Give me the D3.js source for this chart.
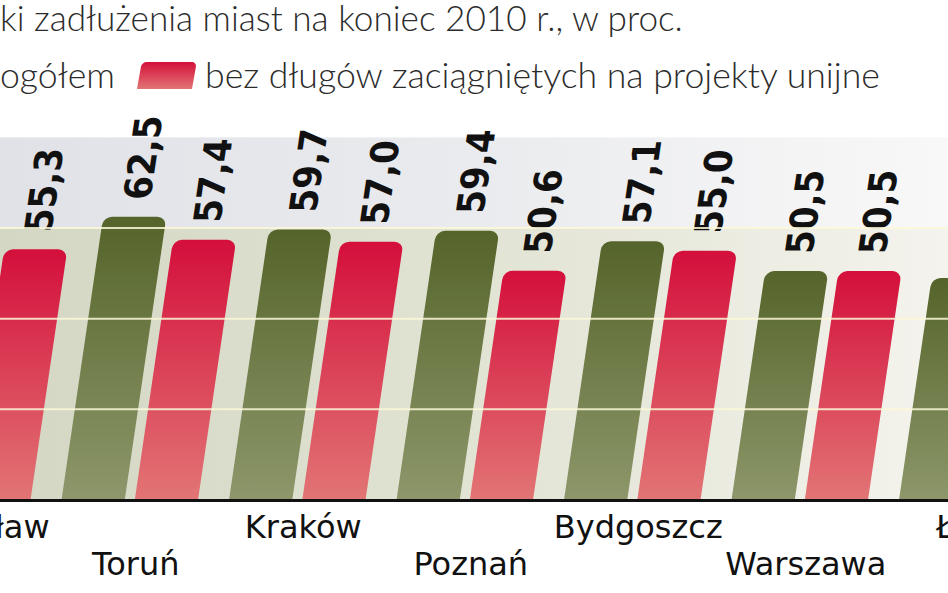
<!DOCTYPE html>
<html>
<head>
<meta charset="utf-8">
<script src="https://cdn.jsdelivr.net/npm/d3@7"></script>
<style>
  html, body { margin: 0; padding: 0; background: #fff; overflow: hidden; }
  svg { display: block; }
</style>
</head>
<body>
<svg id="chart" width="948" height="593"></svg>
<script>
// ---------------- data ----------------
const cities = ["Wrocław", "Toruń", "Kraków", "Poznań", "Bydgoszcz", "Warszawa", "Łódź"];
const debtTotal = [65.7, 62.5, 59.7, 59.4, 57.1, 50.5, 49.0];      // ogółem
const debtExclEU = [55.3, 57.4, 57.0, 50.6, 55.0, 50.5, 45.2];     // bez długów na projekty unijne
const seriesKeys = ["total", "exclEU"];
const seriesNames = ["ogółem", "bez długów zaciągniętych na projekty unijne"];
const gridTicks = [20, 40, 60];
const titleHidden = "Wskaźni";
const titleVisible = "ki zadłużenia miast na koniec 2010 r., w proc.";

// ---------------- setup ----------------
const W = 948, H = 593;
const svg = d3.select("#chart");
const defs = svg.append("defs");

const plBase = 500, plTop = 137.4;
const y = d3.scaleLinear().domain([0, 80]).range([plBase, plTop]);

const step = 167.5, gapOuter = 31;
const x = d3.scaleBand().domain(cities)
  .range([-106, -106 + cities.length * step - gapOuter])
  .paddingInner(gapOuter / step).paddingOuter(0);
const xs = d3.scaleBand().domain(seriesKeys)
  .range([0, x.bandwidth()]).paddingInner(10 / 73);

const fmt = d3.formatLocale({decimal: ",", thousands: " ", grouping: [3], currency: ["", " zł"]}).format(".1f");

const colors = {
  total: ["#55642a", "#8d976b"],
  exclEU: ["#d40f3b", "#e27575"]
};

function vGrad(id, c0, c1) {
  const g = defs.append("linearGradient").attr("id", id)
    .attr("x1", 0).attr("y1", 0).attr("x2", 0).attr("y2", 1);
  g.append("stop").attr("offset", "0%").attr("stop-color", c0);
  g.append("stop").attr("offset", "100%").attr("stop-color", c1);
}
vGrad("g-total", colors.total[0], colors.total[1]);
vGrad("g-exclEU", colors.exclEU[0], colors.exclEU[1]);

function hGrad(id, stops) {
  const g = defs.append("linearGradient").attr("id", id)
    .attr("gradientUnits", "userSpaceOnUse")
    .attr("x1", 0).attr("y1", 0).attr("x2", W).attr("y2", 0);
  stops.forEach(s => g.append("stop").attr("offset", s[0]).attr("stop-color", s[1]));
}
hGrad("bg-grey", [["0%", "#e1e2e8"], ["50%", "#eaebee"], ["100%", "#f8f8f8"]]);
hGrad("bg-beige", [["0%", "#d3d7c3"], ["50%", "#e1e3d3"], ["100%", "#f4f3ed"]]);

// ---------------- background bands ----------------
svg.append("rect").attr("x", 0).attr("width", W)
  .attr("y", y(80)).attr("height", y(60) - y(80)).attr("fill", "url(#bg-grey)");
svg.append("rect").attr("x", 0).attr("width", W)
  .attr("y", y(60)).attr("height", y(0) - y(60)).attr("fill", "url(#bg-beige)");

// ---------------- sheared plot group ----------------
const shear = 0.147;
const skewDeg = -Math.atan(shear) * 180 / Math.PI;
const plot = svg.append("g")
  .attr("transform", `translate(0,${plBase}) skewX(${skewDeg}) translate(0,${-plBase})`);

const rows = cities.map((c, i) => ({
  city: c, i,
  values: [{key: "total", v: debtTotal[i]}, {key: "exclEU", v: debtExclEU[i]}]
}));

function barPath(x0, yt, w, yb, r) {
  const p = d3.path();
  p.moveTo(x0, yb);
  p.lineTo(x0, yt + r);
  p.arcTo(x0, yt, x0 + r, yt, r);
  p.lineTo(x0 + w - r, yt);
  p.arcTo(x0 + w, yt, x0 + w, yt + r, r);
  p.lineTo(x0 + w, yb);
  p.closePath();
  return p.toString();
}

const groups = plot.selectAll("g.city").data(rows).join("g")
  .attr("class", "city")
  .attr("transform", d => `translate(${x(d.city)},0)`);

groups.selectAll("path.bar").data(d => d.values).join("path")
  .attr("class", "bar")
  .attr("d", d => barPath(xs(d.key), y(d.v), xs.bandwidth(), y(0), 9))
  .attr("fill", d => `url(#g-${d.key})`);

groups.selectAll("text.val").data(d => d.values).join("text")
  .attr("class", "val")
  .attr("transform", d => `translate(${xs(d.key) + xs.bandwidth() / 2 + 13},${y(d.v) - 17}) rotate(-90)`)
  .attr("text-anchor", "start")
  .style("font-family", "'DejaVu Sans Condensed', 'DejaVu Sans', sans-serif")
  .style("font-stretch", "condensed")
  .style("font-weight", "bold")
  .style("font-size", "38px")
  .attr("fill", "#111")
  .text(d => fmt(d.v));

// gridlines over bars
svg.append("g").selectAll("line").data(gridTicks).join("line")
  .attr("x1", 0).attr("x2", W)
  .attr("y1", d => y(d)).attr("y2", d => y(d))
  .attr("stroke", "#fbf8d8").attr("stroke-opacity", 0.85).attr("stroke-width", 2);

// baseline
svg.append("line").attr("x1", 0).attr("x2", W)
  .attr("y1", y(0) + 0.5).attr("y2", y(0) + 0.5)
  .attr("stroke", "#111").attr("stroke-width", 3);

// category labels (alternating rows)
svg.append("g").selectAll("text").data(cities).join("text")
  .attr("x", (d, i) => x(d) + x.bandwidth() / 2 + (i === 0 ? 20 : 6))
  .attr("y", (d, i) => i % 2 === 0 ? 538 : 575)
  .attr("text-anchor", "middle")
  .style("font-family", "'DejaVu Sans', sans-serif")
  .style("font-size", "32px")
  .attr("fill", "#111")
  .text(d => d);

// text fit helper (scale font so a text spans a target width)
function fit(sel, target, node) {
  const n = node || sel.node();
  const fs = parseFloat(sel.style("font-size"));
  const len = n.getComputedTextLength();
  sel.style("font-size", (fs * target / len) + "px");
}

const lightFont = "Lato, 'DejaVu Sans', sans-serif";

// ---------------- title ----------------
const title = svg.append("text")
  .attr("y", 31)
  .style("font-family", lightFont)
  .style("font-weight", "300")
  .style("font-size", "30px")
  .attr("fill", "#2b2b2b");
const tHidden = title.append("tspan").text(titleHidden);
const tVis = title.append("tspan").text(titleVisible);
fit(title, 683, tVis.node());
title.attr("x", -tHidden.node().getComputedTextLength());

// ---------------- legend ----------------
const legendX = [-68, 137];
const legend = svg.append("g").selectAll("g").data(seriesKeys).join("g")
  .attr("transform", (d, i) => `translate(${legendX[i]},62)`);
legend.append("path")
  .attr("d", barPath(0, 0, 55, 27, 5))
  .attr("transform", "translate(0,27) skewX(-10) translate(0,-27)")
  .attr("fill", d => `url(#g-${d})`);
const legTexts = legend.append("text")
  .attr("x", 68).attr("y", 26)
  .style("font-family", lightFont)
  .style("font-weight", "300")
  .style("font-size", "30px")
  .attr("fill", "#2b2b2b")
  .text((d, i) => seriesNames[i]);
const redText = legTexts.filter((d, i) => i === 1);
fit(redText, 675);
legTexts.style("font-size", redText.style("font-size"));
</script>
</body>
</html>
